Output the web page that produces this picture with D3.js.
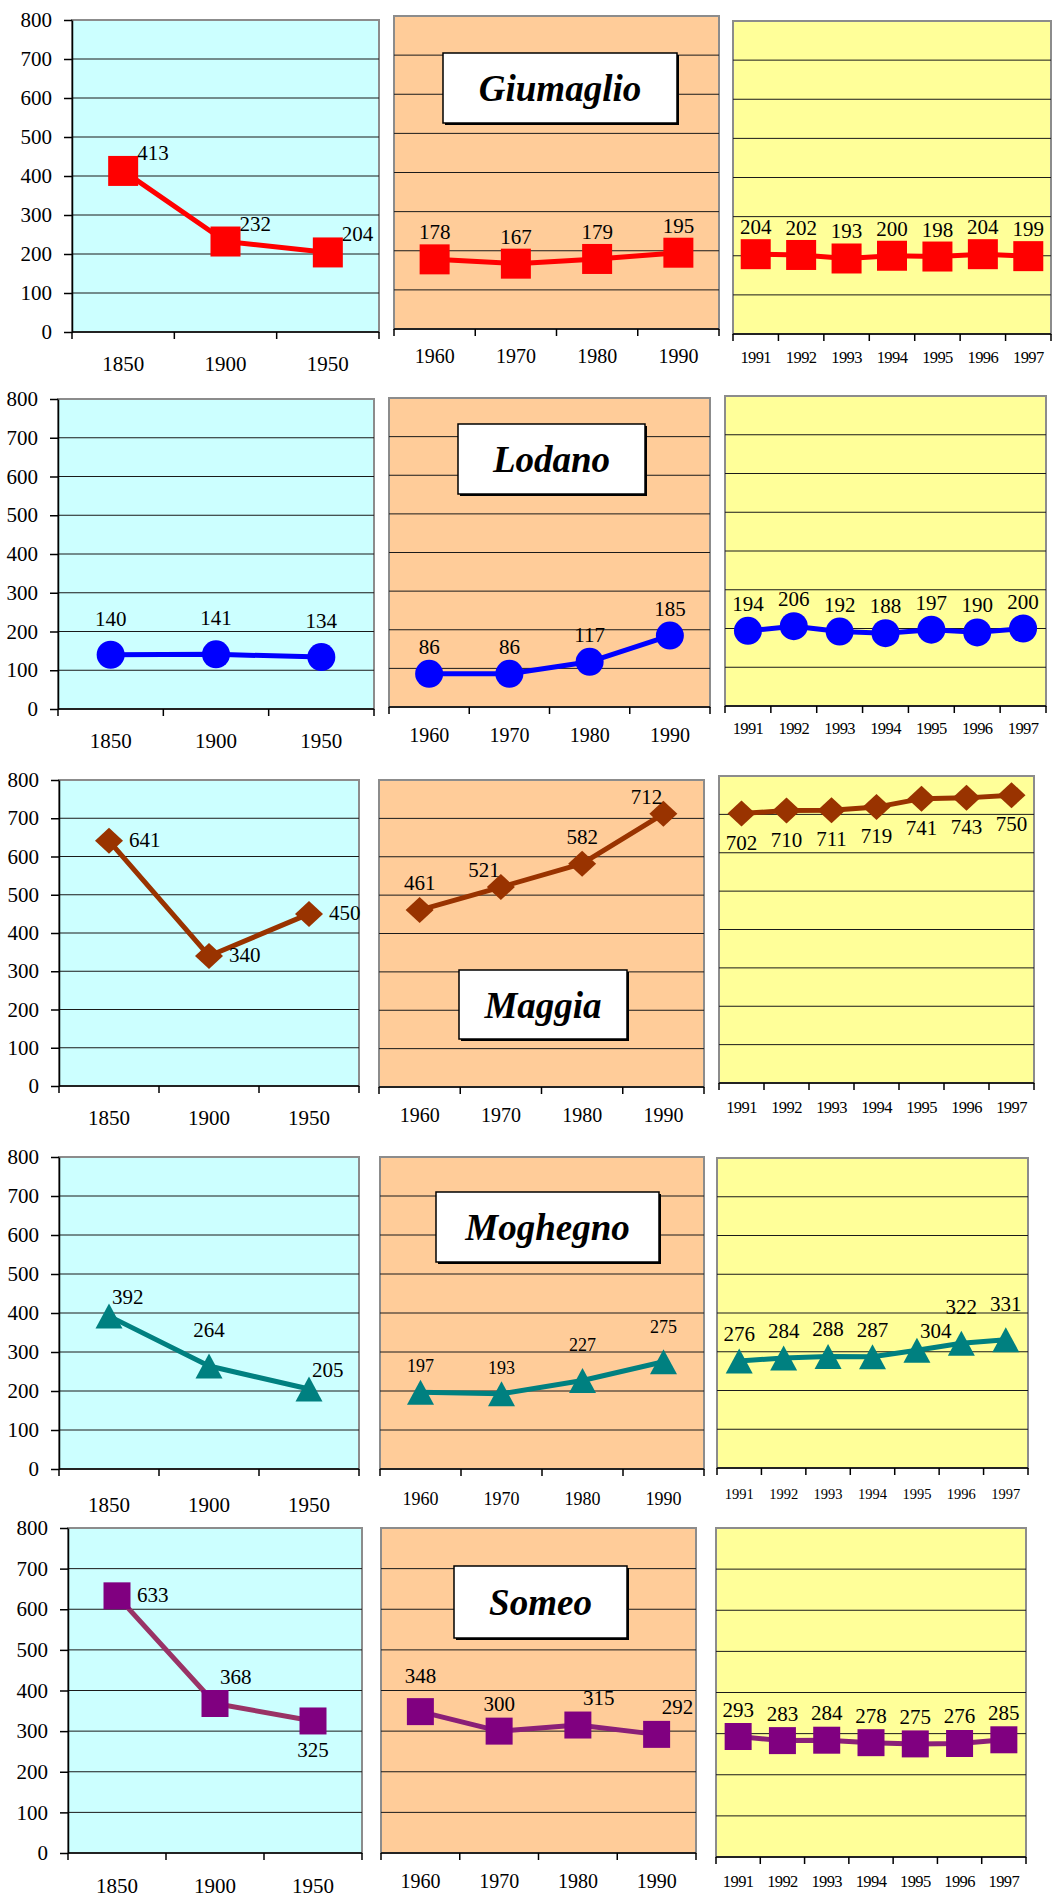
<!DOCTYPE html>
<html>
<head>
<meta charset="utf-8">
<script src="https://cdn.jsdelivr.net/npm/d3@7"></script>
<style>
  body { margin: 0; background: #fff; }
  svg { display: block; }
  text { font-family: "Liberation Serif", "Times New Roman", serif; fill: #000; }
</style>
</head>
<body>
<svg id="chart" width="1061" height="1900"></svg>
<script>
// ---- data ----
const towns = ["Giumaglio", "Lodano", "Maggia", "Moghegno", "Someo"];
const histYears = ["1850", "1900", "1950"];
const midYears = ["1960", "1970", "1980", "1990"];
const recentYears = ["1991", "1992", "1993", "1994", "1995", "1996", "1997"];
const yTickValues = [0, 100, 200, 300, 400, 500, 600, 700, 800];

const giumaglioHist = [413, 232, 204];
const giumaglioMid = [178, 167, 179, 195];
const giumaglioRecent = [204, 202, 193, 200, 198, 204, 199];

const lodanoHist = [140, 141, 134];
const lodanoMid = [86, 86, 117, 185];
const lodanoRecent = [194, 206, 192, 188, 197, 190, 200];

const maggiaHist = [641, 340, 450];
const maggiaMid = [461, 521, 582, 712];
const maggiaRecent = [702, 710, 711, 719, 741, 743, 750];

const moghegnoHist = [392, 264, 205];
const moghegnoMid = [197, 193, 227, 275];
const moghegnoRecent = [276, 284, 288, 287, 304, 322, 331];

const someoHist = [633, 368, 325];
const someoMid = [348, 300, 315, 292];
const someoRecent = [293, 283, 284, 278, 275, 276, 285];

const seriesByTown = [
  [giumaglioHist, giumaglioMid, giumaglioRecent],
  [lodanoHist, lodanoMid, lodanoRecent],
  [maggiaHist, maggiaMid, maggiaRecent],
  [moghegnoHist, moghegnoMid, moghegnoRecent],
  [someoHist, someoMid, someoRecent]
];
const yearSets = [histYears, midYears, recentYears];

// ---- styling / layout ----
const panelFills = ["#ccffff", "#ffcc99", "#ffff99"];
const townStyles = [
  { color: "#ff0000", line: "#ff0000", shape: "square", size: 30 },
  { color: "#0000ff", line: "#0000ff", shape: "circle", size: 28 },
  { color: "#993300", line: "#993300", shape: "diamond", size: 28 },
  { color: "#008080", line: "#008080", shape: "triangle", size: 27 },
  { color: "#800080", line: "#8a1f78", shape: "square", size: 27 }
];

// panel rectangles [left, top, right, bottom], tick label baselines, title box
const layout = [
  { panels: [[72, 20, 379, 332], [394, 16, 719, 329], [733, 21, 1051, 334]],
    base: [371, 363, 363], title: [443, 53, 677, 123] },
  { panels: [[58, 399, 374, 709], [389, 398, 710, 707], [725, 396, 1046, 706]],
    base: [748, 742, 734], title: [458, 424, 645, 494] },
  { panels: [[59, 780, 359, 1086], [379, 780, 704, 1087], [719, 776, 1034, 1083]],
    base: [1125, 1122, 1113], title: [459, 970, 627, 1039] },
  { panels: [[59, 1157, 359, 1469], [380, 1157, 704, 1469], [717, 1158, 1028, 1468]],
    base: [1512, 1505, 1499], title: [436, 1192, 659, 1262] },
  { panels: [[68, 1528, 362, 1853], [381, 1528, 696, 1853], [716, 1528, 1026, 1857]],
    base: [1893, 1888, 1887], title: [454, 1566, 627, 1638] }
];

const serif = "Liberation Serif";
const sans = "Liberation Sans";
const tickFonts = [
  [{ size: 21, family: serif, ls: 0 }, { size: 20, family: serif, ls: 0 }, { size: 16.5, family: serif, ls: -0.6 }],
  [{ size: 21, family: serif, ls: 0 }, { size: 20, family: serif, ls: 0 }, { size: 16.5, family: serif, ls: -0.6 }],
  [{ size: 21, family: serif, ls: 0 }, { size: 20, family: serif, ls: 0 }, { size: 16.5, family: serif, ls: -0.6 }],
  [{ size: 21, family: serif, ls: 0 }, { size: 18, family: serif, ls: 0 }, { size: 14.5, family: sans, ls: 0 }],
  [{ size: 21, family: serif, ls: 0 }, { size: 20, family: serif, ls: 0 }, { size: 16.5, family: serif, ls: -0.6 }]
];
const labelSizes = [[21, 21, 21], [21, 21, 21], [21, 21, 21], [21, 18, 21], [21, 21, 21]];

// data label placement keywords: [text-anchor, dx, dy]
const place = {
  above: ["middle", 0, -20],
  high: ["middle", 0, -29],
  aboveR: ["start", 14, -11],
  tipR: ["start", 3, -12],
  upR: ["start", 5, -20],
  aboveL: ["middle", -17, -10],
  right: ["start", 20, 6],
  below: ["middle", 0, 36]
};
const labelPlacement = [
  [["aboveR", "aboveR", "aboveR"], ["above", "above", "above", "above"], Array(7).fill("above")],
  [["high", "high", "high"], ["above", "above", "above", "above"], Array(7).fill("above")],
  [["right", "right", "right"], ["above", "aboveL", "above", "aboveL"], Array(7).fill("below")],
  [["tipR", "high", "tipR"], ["above", "above", "high", "high"],
    ["above", "above", "above", "above", "tipR", "high", "high"]],
  [["right", "upR", "below"], ["high", "above", "upR", "upR"], Array(7).fill("above")]
];

// ---- drawing ----
const svg = d3.select("#chart");

function markerPath(shape, s) {
  const h = s / 2;
  if (shape === "square") return `M${-h},${-h}h${s}v${s}h${-s}Z`;
  if (shape === "diamond") return `M0,${-h + 1}L${h},0L0,${h - 1}L${-h},0Z`;
  if (shape === "triangle") return `M0,${-h + 1}L${h},${h - 1}L${-h},${h - 1}Z`;
  return d3.symbol().type(d3.symbolCircle).size(Math.PI * h * h)();
}

towns.forEach((town, r) => {
  const style = townStyles[r];
  const lay = layout[r];

  yearSets.forEach((years, p) => {
    const [left, top, right, bottom] = lay.panels[p];
    const values = seriesByTown[r][p];
    const g = svg.append("g").attr("class", `panel r${r} p${p}`);

    const x = d3.scaleBand().domain(years).range([left, right]).padding(0);
    const y = d3.scaleLinear().domain([0, 800]).range([bottom, top]);

    g.append("rect")
      .attr("x", left).attr("y", top)
      .attr("width", right - left).attr("height", bottom - top)
      .attr("fill", panelFills[p])
      .attr("stroke", "#8c8c8c").attr("stroke-width", 2);

    g.selectAll("line.grid")
      .data(yTickValues.filter(v => v > 0 && v < 800))
      .join("line")
      .attr("class", "grid")
      .attr("x1", left).attr("x2", right)
      .attr("y1", d => y(d)).attr("y2", d => y(d))
      .attr("stroke", "#1a1a1a").attr("stroke-width", 1);

    // y axis only on the first panel of each row
    if (p === 0) {
      const ya = g.append("g")
        .attr("transform", `translate(${left},0)`)
        .call(d3.axisLeft(y).tickValues(yTickValues).tickSize(8).tickSizeOuter(0).tickPadding(12));
      ya.selectAll("path, line").attr("stroke", "#000").attr("stroke-width", 1.5);
      ya.selectAll("text")
        .attr("font-family", serif).attr("font-size", 21).attr("fill", "#000");
    }

    // x axis: labels centred on categories, ticks between categories
    const font = tickFonts[r][p];
    const xa = g.append("g")
      .attr("transform", `translate(0,${bottom})`)
      .call(d3.axisBottom(x).tickSize(0));
    xa.select(".domain").remove();
    xa.selectAll("text")
      .attr("y", lay.base[p] - bottom).attr("dy", 0)
      .attr("font-family", font.family).attr("font-size", font.size)
      .attr("letter-spacing", font.ls).attr("fill", "#000");

    g.append("line")
      .attr("x1", left).attr("x2", right)
      .attr("y1", bottom).attr("y2", bottom)
      .attr("stroke", "#000").attr("stroke-width", 1.5);
    g.selectAll("line.xtick")
      .data(years.map(d => x(d)).concat([right]))
      .join("line")
      .attr("class", "xtick")
      .attr("x1", d => d).attr("x2", d => d)
      .attr("y1", bottom).attr("y2", bottom + 7)
      .attr("stroke", "#000").attr("stroke-width", 1.5);

    const pts = years.map((yr, i) => ({ year: yr, value: values[i], pos: labelPlacement[r][p][i] }));
    const cx = d => x(d.year) + x.bandwidth() / 2;

    g.append("path")
      .datum(pts)
      .attr("d", d3.line().x(cx).y(d => y(d.value)))
      .attr("fill", "none")
      .attr("stroke", p === 0 && r === 4 ? "#993366" : style.line)
      .attr("stroke-width", 5)
      .attr("stroke-linejoin", "round");

    g.selectAll("path.marker")
      .data(pts)
      .join("path")
      .attr("class", "marker")
      .attr("transform", d => `translate(${cx(d)},${y(d.value)})`)
      .attr("d", markerPath(style.shape, style.size))
      .attr("fill", style.color);

    g.selectAll("text.value")
      .data(pts)
      .join("text")
      .attr("class", "value")
      .attr("x", d => cx(d) + place[d.pos][1])
      .attr("y", d => y(d.value) + place[d.pos][2])
      .attr("text-anchor", d => place[d.pos][0])
      .attr("font-family", serif)
      .attr("font-size", labelSizes[r][p])
      .text(d => d.value);

    // town name box sits in the middle panel
    if (p === 1) {
      const [tx0, ty0, tx1, ty1] = lay.title;
      g.append("rect")
        .attr("x", tx0 + 2).attr("y", ty0 + 2)
        .attr("width", tx1 - tx0).attr("height", ty1 - ty0)
        .attr("fill", "#000");
      g.append("rect")
        .attr("x", tx0).attr("y", ty0)
        .attr("width", tx1 - tx0).attr("height", ty1 - ty0)
        .attr("fill", "#fff").attr("stroke", "#000").attr("stroke-width", 1.5);
      g.append("text")
        .attr("x", (tx0 + tx1) / 2)
        .attr("y", (ty0 + ty1) / 2 + 13)
        .attr("text-anchor", "middle")
        .attr("font-family", serif)
        .attr("font-size", 37)
        .attr("font-weight", "bold")
        .attr("font-style", "italic")
        .text(town);
    }
  });
});
</script>
</body>
</html>
